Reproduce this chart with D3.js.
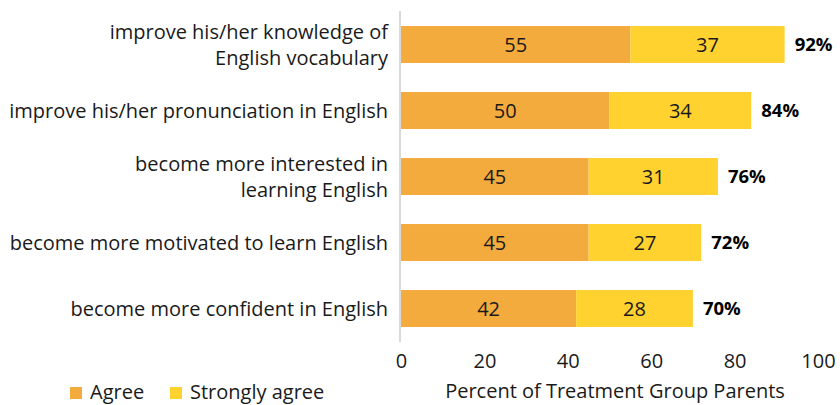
<!DOCTYPE html>
<html><head><meta charset="utf-8">
<script src="https://cdn.jsdelivr.net/npm/d3@7"></script>
<style>body{margin:0;background:#fff}svg{display:block}text{font-family:"Open Sans",sans-serif}</style>
</head><body><svg id="c" width="840" height="405"></svg>
<script>
const categories = [
  ["improve his/her knowledge of","English vocabulary"],
  ["improve his/her pronunciation in English"],
  ["become more interested in","learning English"],
  ["become more motivated to learn English"],
  ["become more confident in English"]
];
const agree = [55, 50, 45, 45, 42];
const stronglyAgree = [37, 34, 31, 27, 28];
const totals = ["92%", "84%", "76%", "72%", "70%"];
const xTicks = [0, 20, 40, 60, 80, 100];
const seriesNames = ["Agree", "Strongly agree"];
const colors = ["#F4AB3E", "#FFD22F"];

const svg = d3.select("#c");
const x = d3.scaleLinear().domain([0, 100]).range([401, 818]);
const y = d3.scaleBand().domain(d3.range(categories.length)).range([11.5, 341.5]).paddingInner(0.44).paddingOuter(0.22);

const rows = categories.map((c, i) => ({i, a: agree[i], s: stronglyAgree[i], t: totals[i]}));
const g = svg.append("g");
rows.forEach(r => {
  g.append("rect").attr("x", x(0)).attr("y", y(r.i)).attr("width", x(r.a) - x(0)).attr("height", y.bandwidth()).attr("fill", colors[0]);
  g.append("rect").attr("x", x(r.a)).attr("y", y(r.i)).attr("width", x(r.a + r.s) - x(r.a)).attr("height", y.bandwidth()).attr("fill", colors[1]);
  const cy = y(r.i) + y.bandwidth() / 2;
  g.append("text").attr("x", (x(0) + x(r.a)) / 2).attr("y", cy).attr("dy", "0.35em").attr("text-anchor", "middle").attr("font-size", 20).attr("fill", "#1a1a1a").text(r.a);
  g.append("text").attr("x", (x(r.a) + x(r.a + r.s)) / 2).attr("y", cy).attr("dy", "0.35em").attr("text-anchor", "middle").attr("font-size", 20).attr("fill", "#1a1a1a").text(r.s);
  g.append("text").attr("x", x(r.a + r.s) + 10).attr("y", cy).attr("dy", "0.35em").attr("font-size", 18.5).attr("font-weight", "bold").attr("fill", "#000").text(r.t);
  const lines = categories[r.i];
  const lh = 26;
  lines.forEach((ln, k) => {
    g.append("text").attr("x", 388).attr("y", cy + (k - (lines.length - 1) / 2) * lh).attr("dy", "0.35em")
      .attr("text-anchor", "end").attr("font-size", 20).attr("fill", "#1a1a1a").text(ln);
  });
});

svg.append("line").attr("x1", 400).attr("x2", 400).attr("y1", 11).attr("y2", 342).attr("stroke", "#d9d9d9").attr("stroke-width", 2);

const ax = svg.append("g").attr("transform", "translate(0,342)")
  .call(d3.axisBottom(x).tickValues(xTicks).tickSize(0).tickPadding(12));
ax.select(".domain").remove();
ax.selectAll("text").attr("font-size", 20).attr("fill", "#1a1a1a").attr("font-family", "Open Sans, sans-serif");

svg.append("text").attr("x", 615).attr("y", 391).attr("dy", "0.35em").attr("text-anchor", "middle").attr("font-size", 20).attr("fill", "#1a1a1a").text("Percent of Treatment Group Parents");

const lg = svg.append("g");
const lx = [70, 170];
seriesNames.forEach((n, i) => {
  lg.append("rect").attr("x", lx[i]).attr("y", 387).attr("width", 12).attr("height", 12).attr("fill", colors[i]);
  lg.append("text").attr("x", lx[i] + 20).attr("y", 391.5).attr("dy", "0.35em").attr("font-size", 20).attr("fill", "#1a1a1a").text(n);
});
</script></body></html>
